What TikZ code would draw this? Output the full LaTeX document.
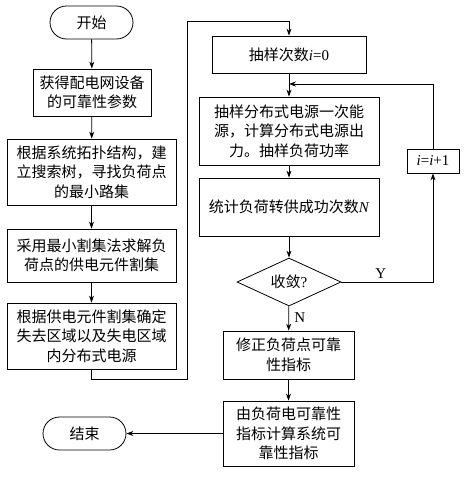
\documentclass[tikz,border=0pt]{standalone}
\usepackage{fontspec}
\setmainfont{Liberation Serif}
\newfontfamily\cjk{Noto Sans CJK SC}
\usetikzlibrary{shapes.geometric,shapes.misc,arrows.meta}
\newcommand\ivar{{\rmfamily\itshape i}}
\tikzset{
  every node/.style={font=\cjk\fontsize{15}{19.5}\selectfont},
  box/.style={draw, line width=0.8pt, rectangle, align=center, inner sep=0pt},
  term/.style={draw, line width=0.8pt, rounded rectangle, inner sep=0pt},
  dec/.style={draw, line width=0.8pt, diamond, aspect=2.17, inner sep=0pt},
  conn/.style={line width=0.8pt, -{Stealth[length=7pt,width=5pt]}},
  plain/.style={line width=0.8pt},
  lbl/.style={font=\rmfamily\fontsize{15}{18}\selectfont}
}
\begin{document}
\begin{tikzpicture}[x=1pt,y=-1pt]
\useasboundingbox (0,0) rectangle (465,477);
% left column
\node[term, minimum width=83pt, minimum height=33pt] (start) at (91.5,22.5) {开始};
\node[box, minimum width=118pt, minimum height=47pt] (b2) at (92,92.5) {获得配电网设备\\的可靠性参数};
\node[box, minimum width=169pt, minimum height=66pt] (b3) at (91.5,172) {根据系统拓扑结构，建\\立搜索树，寻找负荷点\\的最小路集};
\node[box, minimum width=169pt, minimum height=53pt] (b4) at (91.5,255.5) {采用最小割集法求解负\\荷点的供电元件割集};
\node[box, minimum width=169pt, minimum height=66pt] (b5) at (91.5,336) {根据供电元件割集确定\\失去区域以及失电区域\\内分布式电源};
\node[term, minimum width=83pt, minimum height=33pt] (end) at (84.5,433.5) {结束};
% right column
\node[box, minimum width=154pt, minimum height=37pt] (r1) at (289,54.5) {抽样次数\ivar{\rmfamily =0}};
\node[box, minimum width=180pt, minimum height=68pt] (r2) at (289,131) {抽样分布式电源一次能\\源，计算分布式电源出\\力。抽样负荷功率};
\node[box, minimum width=180pt, minimum height=58pt] (r3) at (289,207) {统计负荷转供成功次数{\rmfamily\itshape N}};
\node[dec, minimum width=104pt, minimum height=48pt] (d) at (289,282) {收敛{\rmfamily ?}};
\node[box, minimum width=131pt, minimum height=48pt] (r4) at (288.5,355) {修正负荷点可靠\\性指标};
\node[box, minimum width=131pt, minimum height=65pt] (r5) at (288.5,433.5) {由负荷电可靠性\\指标计算系统可\\靠性指标};
\node[box, minimum width=52pt, minimum height=24pt] (inc) at (433,161) {\ivar{\rmfamily =}\ivar{\rmfamily +1}};
% connectors left
\draw[conn] (start) -- (b2);
\draw[conn] (b2) -- (b3);
\draw[conn] (b3) -- (b4);
\draw[conn] (b4) -- (b5);
\coordinate (l1) at (91.5,379);
\coordinate (l2) at (187,379);
\coordinate (l3) at (187,21);
\coordinate (l4) at (289,21);
\draw[conn] (b5.south) -- (l1) -- (l2) -- (l3) -- (l4) -- (r1.north);
% connectors right
\draw[conn] (r1) -- (r2);
\draw[conn] (r2) -- (r3);
\draw[conn] (r3) -- (d);
\draw[conn] (d) -- node[lbl, right, pos=0.45, xshift=2pt] (nl) {N} (r4);
\draw[conn] (r4) -- (r5);
\coordinate (y1) at (433,282);
\draw[conn] (d.east) -- node[lbl, above, pos=0.43] (yl) {Y} (y1) -- (inc.south);
\coordinate (f1) at (433,84);
\coordinate (f2) at (289,84);
\draw[conn] (inc.north) -- (f1) -- (f2);
\draw[conn] (r5.west) -- (end.east);
\end{tikzpicture}
\end{document}
